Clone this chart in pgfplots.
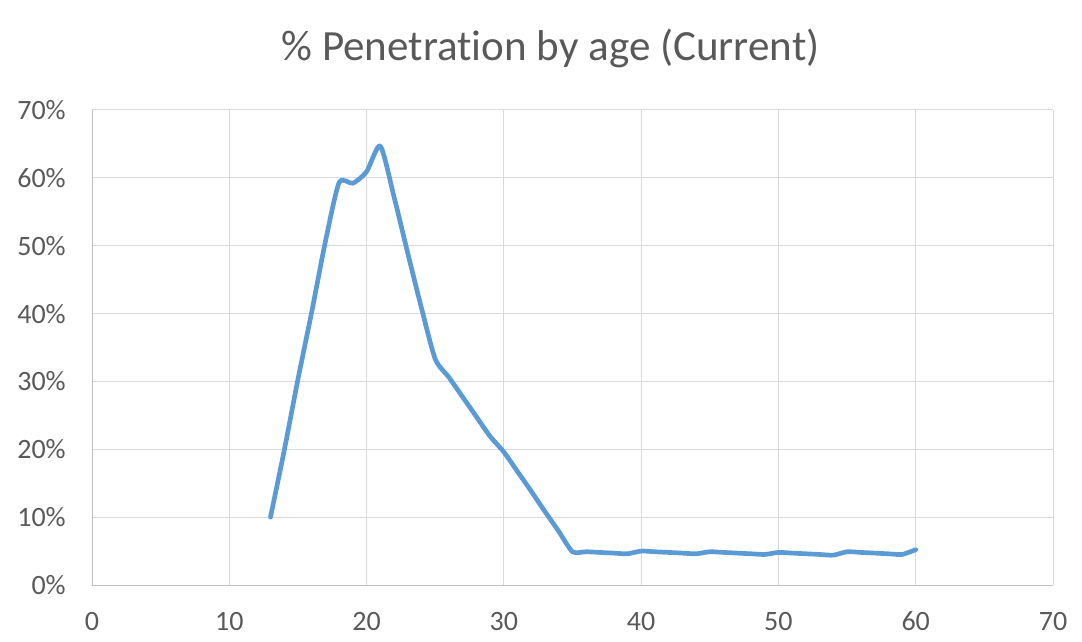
\documentclass[border=0pt]{standalone}
\usepackage{pgfplots}
\pgfplotsset{compat=1.18}
\usepackage{fontspec}
\setmainfont{Carlito}[Ligatures=NoCommon]
\definecolor{txt}{HTML}{595959}
\definecolor{gridc}{HTML}{D9D9D9}
\definecolor{axc}{HTML}{BFBFBF}
\definecolor{line}{HTML}{5B9BD5}
\begin{document}
\begin{tikzpicture}
\begin{axis}[name=ax,
  scale only axis, width=720.75pt, height=356.25pt,
  xmin=0, xmax=70, ymin=0, ymax=70,
  xtick={0,10,...,70}, ytick={0,10,...,70},
  grid=major, major grid style={color=gridc, line width=0.75pt},
  axis line style={color=axc, line width=0.75pt},
  axis x line*=bottom, axis y line*=left,
  major tick length=0pt,
  /pgf/number format/assume math mode=true,
  tick label style={font=\fontsize{21}{25}\selectfont, text=txt},
  yticklabel={\pgfmathprintnumber{\tick}\%},
  yticklabel style={anchor=east, inner sep=0pt, xshift=-19.5pt},
  xticklabel style={anchor=north, inner sep=0pt, yshift=-20pt},
  clip=false,
]
\addplot[line, line width=3.5pt, smooth, tension=0.4, line cap=round, line join=round] coordinates {
(13,10.0) (14,19.8) (15,30.3) (16,40.2) (17,50.6) (18,59.3) (19,59.2) (20,60.9) (21,64.7)
(22,57.2) (23,48.9) (24,40.8) (25,33.3) (26,30.6) (27,27.7) (28,24.8) (29,21.9) (30,19.6)
(31,16.7) (32,13.8) (33,10.8) (34,7.9) (35,4.9) (36,4.9) (37,4.8) (38,4.7) (39,4.6)
(40,5.0) (41,4.9) (42,4.8) (43,4.7) (44,4.6) (45,4.9) (46,4.8) (47,4.7) (48,4.6) (49,4.5)
(50,4.8) (51,4.7) (52,4.6) (53,4.5) (54,4.4) (55,4.9) (56,4.8) (57,4.7) (58,4.6) (59,4.5) (60,5.2)
};
\end{axis}
\node[font=\fontsize{32.3}{38}\selectfont, text=txt] at ([xshift=-16.5pt,yshift=46pt]ax.north) {\% Penetration by age (Current)};
\pgfresetboundingbox
\path ([xshift=-69pt,yshift=-42pt]ax.south west) rectangle ([xshift=21.75pt,yshift=82.5pt]ax.north east);
\end{tikzpicture}
\end{document}
